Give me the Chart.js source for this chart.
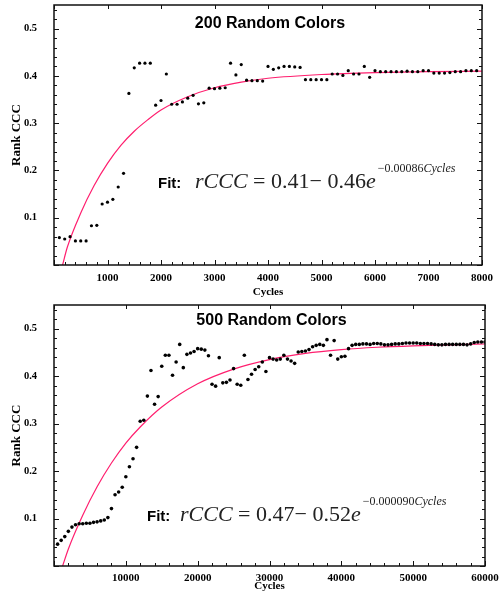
<!DOCTYPE html>
<html>
<head>
<meta charset="utf-8">
<script src="https://cdn.jsdelivr.net/npm/chart.js@4.4.0/dist/chart.umd.min.js"></script>
<style>
  body { margin: 0; background: #fff; }
  .wrap { position: absolute; left: 0; width: 502px; }
</style>
</head>
<body>
<div class="wrap" style="top:0"><canvas id="chart-200" width="502" height="300"></canvas></div>
<div class="wrap" style="top:300px"><canvas id="chart-500" width="502" height="302"></canvas></div>
<script>
// ---- 200 random colors: rank CCC sampled every 100 cycles (100 .. 7900)
const step200 = 100;
const rank200 = [
  0.058, 0.055, 0.060, 0.051, 0.051, 0.051, 0.083, 0.084, 0.129, 0.133,
  0.139, 0.165, 0.194, 0.363, 0.417, 0.427, 0.427, 0.427, 0.338, 0.348,
  0.404, 0.340, 0.340, 0.345, 0.353, 0.359, 0.341, 0.343, 0.374, 0.373,
  0.374, 0.375, 0.427, 0.402, 0.424, 0.391, 0.390, 0.390, 0.389, 0.420,
  0.414, 0.417, 0.420, 0.420, 0.419, 0.418, 0.392, 0.392, 0.392, 0.392,
  0.392, 0.404, 0.404, 0.401, 0.411, 0.404, 0.404, 0.420, 0.397, 0.411,
  0.409, 0.409, 0.409, 0.409, 0.409, 0.410, 0.409, 0.409, 0.411, 0.411,
  0.406, 0.406, 0.406, 0.407, 0.409, 0.409, 0.411, 0.411, 0.411
];
const fit200X = [160, 250, 500, 750, 1000, 1250, 1500, 1750, 2000, 2500, 3000, 3500, 4000, 5000, 6000, 7000, 8000];
const fit200Y = [0.0, 0.038, 0.110, 0.168, 0.215, 0.253, 0.283, 0.307, 0.328, 0.356, 0.375, 0.387, 0.395, 0.403, 0.407, 0.409, 0.410];

// ---- 500 random colors: rank CCC sampled every 500 cycles (500 .. 60000)
const step500 = 500;
const rank500 = [
  0.046, 0.054, 0.062, 0.073, 0.082, 0.087, 0.089, 0.089, 0.090, 0.090,
  0.092, 0.093, 0.095, 0.097, 0.102, 0.121, 0.150, 0.156, 0.166, 0.188,
  0.209, 0.226, 0.250, 0.305, 0.307, 0.358, 0.412, 0.341, 0.357, 0.421,
  0.444, 0.444, 0.402, 0.430, 0.467, 0.418, 0.446, 0.449, 0.452, 0.458,
  0.457, 0.455, 0.443, 0.383, 0.379, 0.439, 0.386, 0.387, 0.392, 0.416,
  0.383, 0.381, 0.444, 0.393, 0.404, 0.414, 0.420, 0.430, 0.410, 0.439,
  0.436, 0.434, 0.436, 0.444, 0.436, 0.432, 0.427, 0.451, 0.452, 0.453,
  0.456, 0.462, 0.465, 0.467, 0.465, 0.477, 0.444, 0.475, 0.436, 0.441,
  0.442, 0.458, 0.465,
  0.467, 0.467, 0.468, 0.468, 0.467, 0.469, 0.469, 0.468, 0.466, 0.466,
  0.467, 0.468, 0.468, 0.469, 0.470, 0.470, 0.470, 0.470, 0.469, 0.469,
  0.469, 0.468, 0.467, 0.466, 0.466, 0.467, 0.467, 0.467, 0.467, 0.467,
  0.467, 0.466, 0.468, 0.471, 0.472, 0.472, 0.472
];
const fit500X = [1200, 2000, 4000, 6000, 8000, 10000, 12000, 15000, 20000, 25000, 30000, 35000, 40000, 45000, 50000, 55000, 60000];
const fit500Y = [0.0, 0.036, 0.107, 0.167, 0.217, 0.259, 0.293, 0.335, 0.384, 0.415, 0.435, 0.448, 0.456, 0.461, 0.464, 0.466, 0.468];

// text
const title200 = '200 Random Colors';
const title500 = '500 Random Colors';
const eq200 = [['i', 'rCCC'], ['n', ' = 0.41\u2212 0.46'], ['i', 'e']];
const exp200 = [['n', '\u22120.00086'], ['i', 'Cycles']];
const eq500 = [['i', 'rCCC'], ['n', ' = 0.47\u2212 0.52'], ['i', 'e']];
const exp500 = [['n', '\u22120.000090'], ['i', 'Cycles']];

const PINK = 'rgb(255, 30, 110)';
const SERIF = '"Liberation Serif", "Times New Roman", serif';
const SANS = '"Liberation Sans", Arial, sans-serif';

function toPoints(xs, ys) {
  return ys.map((v, i) => ({ x: xs[i], y: v }));
}
function gridPoints(step, ys) {
  return ys.map((v, i) => ({ x: step * (i + 1), y: v }));
}

// frame around the plot with inward ticks
const framePlugin = {
  id: 'frame',
  afterDatasetsDraw(chart, args, o) {
    const { ctx, chartArea: a, scales: { x, y } } = chart;
    ctx.save();
    ctx.strokeStyle = '#111';
    ctx.lineWidth = 1;
    const seg = (x1, y1, x2, y2) => { ctx.beginPath(); ctx.moveTo(x1, y1); ctx.lineTo(x2, y2); ctx.stroke(); };
    for (let i = 0; i * o.xMinor <= x.max + 1e-9; i++) {
      const v = i * o.xMinor;
      const px = Math.round(x.getPixelForValue(v)) + 0.5;
      const major = i % o.xEvery === 0;
      seg(px, a.bottom, px, a.bottom - (major ? 5 : 3));
      if (major) seg(px, a.top, px, a.top + 4);
    }
    for (let i = 0; i * o.yMinor <= y.max + 1e-9; i++) {
      const v = i * o.yMinor;
      const py = Math.round(y.getPixelForValue(v)) + 0.5;
      const len = i % o.yEvery === 0 ? 5 : 3;
      seg(a.left, py, a.left + len, py);
      seg(a.right, py, a.right - len, py);
    }
    ctx.lineWidth = 1.5;
    ctx.strokeRect(a.left, a.top, a.right - a.left, a.bottom - a.top);
    ctx.restore();
  }
};

// title and fit formula inside the plot
const annotPlugin = {
  id: 'annot',
  afterDraw(chart, args, o) {
    const { ctx, chartArea: a } = chart;
    ctx.save();
    ctx.fillStyle = '#000';
    ctx.textBaseline = 'alphabetic';
    ctx.textAlign = 'center';
    ctx.font = 'bold 16px ' + SANS;
    ctx.fillText(o.title, (a.left + a.right) / 2 + 2, o.titleY);
    ctx.textAlign = 'left';
    ctx.font = 'bold 15px ' + SANS;
    ctx.fillText('Fit:', o.fitX, o.baseY);
    ctx.fillStyle = '#222';
    let x = o.eqX;
    o.eq.forEach(([s, t]) => {
      ctx.font = (s === 'i' ? 'italic ' : '') + '22px ' + SERIF;
      ctx.fillText(t, x, o.baseY);
      x += ctx.measureText(t).width;
    });
    x += 2;
    o.exp.forEach(([s, t]) => {
      ctx.font = (s === 'i' ? 'italic ' : '') + '12px ' + SERIF;
      ctx.fillText(t, x, o.baseY - 16);
      x += ctx.measureText(t).width;
    });
    ctx.restore();
  }
};

function makeChart(id, cfg) {
  const canvas = document.getElementById(id);
  if (!canvas) {
    console.error("Canvas with ID '" + id + "' not found.");
    return null;
  }
  return new Chart(canvas, {
    type: 'scatter',
    data: {
      datasets: [
        {
          type: 'line',
          label: 'fit',
          data: cfg.fit,
          borderColor: PINK,
          borderWidth: 1.2,
          pointRadius: 0,
          tension: 0.4,
          cubicInterpolationMode: 'monotone',
          fill: false,
          order: 2
        },
        {
          label: 'Rank CCC',
          data: cfg.points,
          backgroundColor: '#000',
          borderColor: '#000',
          borderWidth: 0,
          pointRadius: cfg.radius,
          order: 1
        }
      ]
    },
    options: {
      responsive: false,
      animation: false,
      layout: { padding: { top: 5, right: cfg.padRight, bottom: 0, left: 0 } },
      plugins: {
        legend: { display: false },
        tooltip: { enabled: false },
        frame: cfg.frame,
        annot: cfg.annot
      },
      scales: {
        x: {
          type: 'linear',
          min: 0,
          max: cfg.xMax,
          afterFit: s => {
            s.height = cfg.xHeight;
            s.paddingLeft = 0;
            s.paddingRight = 0;
          },
          grid: { display: false, drawTicks: false },
          border: { display: false },
          ticks: {
            stepSize: cfg.xStep,
            padding: cfg.xTickPad,
            autoSkip: false,
            maxRotation: 0,
            color: '#000',
            font: { family: SERIF, size: 11, weight: 'bold' },
            callback: v => (v === 0 ? '' : String(v))
          },
          title: {
            display: true,
            text: 'Cycles',
            color: '#000',
            font: { family: SERIF, size: 11, weight: 'bold' },
            padding: { top: 0, bottom: cfg.xTitlePad }
          }
        },
        y: {
          min: 0,
          max: 0.55,
          afterFit: s => {
            s.width = 54;
            s.paddingTop = 0;
            s.paddingBottom = 0;
          },
          grid: { display: false, drawTicks: false },
          border: { display: false },
          ticks: {
            stepSize: 0.1,
            includeBounds: false,
            padding: 17,
            color: '#000',
            font: { family: SERIF, size: 10.5, weight: 'bold' },
            callback: v => (v > 0.05 && v < 0.54 ? v.toFixed(1) : '')
          },
          title: {
            display: true,
            text: 'Rank CCC',
            color: '#000',
            font: { family: SERIF, size: 13, weight: 'bold' },
            padding: { top: 9, bottom: 0 }
          }
        }
      }
    },
    plugins: [framePlugin, annotPlugin]
  });
}

makeChart('chart-200', {
  points: gridPoints(step200, rank200),
  fit: toPoints(fit200X, fit200Y),
  radius: 1.6,
  xMax: 8000,
  xStep: 1000,
  padRight: 20,
  xHeight: 35,
  xTickPad: 7,
  xTitlePad: 1,
  frame: { xMinor: 200, xEvery: 5, yMinor: 0.02, yEvery: 5 },
  annot: { title: title200, titleY: 28, fitX: 158, eqX: 195, baseY: 188, eq: eq200, exp: exp200 }
});

makeChart('chart-500', {
  points: gridPoints(step500, rank500),
  fit: toPoints(fit500X, fit500Y),
  radius: 1.8,
  xMax: 60000,
  xStep: 10000,
  padRight: 17,
  xHeight: 36,
  xTickPad: 6,
  xTitlePad: 9,
  frame: { xMinor: 2000, xEvery: 5, yMinor: 0.02, yEvery: 5 },
  annot: { title: title500, titleY: 25, fitX: 147, eqX: 180, baseY: 221, eq: eq500, exp: exp500 }
});
</script>
</body>
</html>
